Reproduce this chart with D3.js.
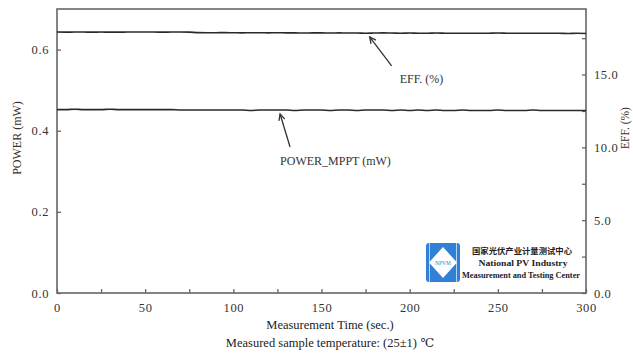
<!DOCTYPE html>
<html>
<head>
<meta charset="utf-8">
<script src="https://cdn.jsdelivr.net/npm/d3@7"></script>
<style>
  html, body { margin: 0; padding: 0; background: #fff; }
  svg { display: block; }
</style>
</head>
<body>
<svg id="chart" width="633" height="353"></svg>
<script>
// Measurement time (s), sampled every 5 s
const timeSec = d3.range(0, 301, 5);

// Conversion efficiency (%) – right axis
const effPct = [
  17.92,17.91,17.92,17.92,17.91,17.92,17.91,17.91,17.92,17.92,
  17.92,17.92,17.91,17.92,17.92,17.91,17.88,17.87,17.87,17.88,
  17.87,17.86,17.87,17.87,17.86,17.87,17.86,17.86,17.85,17.86,
  17.86,17.85,17.86,17.85,17.85,17.84,17.85,17.86,17.85,17.84,
  17.85,17.84,17.84,17.85,17.84,17.83,17.84,17.84,17.83,17.84,
  17.85,17.84,17.83,17.84,17.83,17.83,17.84,17.83,17.82,17.83,17.82
];

// MPPT output power (mW) – left axis
const powerMw = [
  0.452,0.452,0.453,0.452,0.452,0.452,0.453,0.452,0.452,0.452,
  0.452,0.452,0.452,0.452,0.451,0.451,0.451,0.451,0.451,0.451,
  0.451,0.451,0.450,0.451,0.451,0.451,0.451,0.450,0.451,0.451,
  0.451,0.450,0.451,0.451,0.450,0.451,0.451,0.451,0.450,0.451,
  0.450,0.451,0.450,0.451,0.450,0.450,0.451,0.450,0.450,0.450,
  0.451,0.450,0.450,0.450,0.451,0.450,0.450,0.450,0.450,0.450,0.450
];

// Tick values
const xMajorTicks = [0, 50, 100, 150, 200, 250, 300];
const xMinorTicks = [25, 75, 125, 175, 225, 275];
const leftTicks = [0.0, 0.2, 0.4, 0.6];
const rightMajorTicks = [0, 5, 10, 15];
const rightMinorTicks = [2.5, 7.5, 12.5, 17.5];

// Series call-outs: label and the point (time, value) the arrow points at
const callouts = [
  { label: "EFF. (%)", t: 177.3, axis: "right", value: 17.86, dx: 22, dy: 29, lx: 30, ly: 46 },
  { label: "POWER_MPPT (mW)", t: 126.5, axis: "left", value: 0.451, dx: 10, dy: 33, lx: 0, ly: 51 }
];

const SERIF = "'Liberation Serif', 'DejaVu Serif', serif";
const margin = { left: 57, right: 47, top: 9, bottom: 60 };
const W = 633, H = 353;
const svg = d3.select("#chart");
const iw = W - margin.left - margin.right;
const ih = H - margin.top - margin.bottom;

const x = d3.scaleLinear().domain([0, 300]).range([margin.left, margin.left + iw]);
const yL = d3.scaleLinear().domain([0, 0.7]).range([margin.top + ih, margin.top]);
const yR = d3.scaleLinear().domain([0, 19.5]).range([margin.top + ih, margin.top]);

const axisColor = "#666";

// Axes (ticks point inward)
svg.append("g").attr("transform", `translate(0,${margin.top + ih})`)
  .call(d3.axisBottom(x).tickValues(xMajorTicks).tickSizeInner(-4).tickSizeOuter(0)
    .tickPadding(10).tickFormat(d3.format("d")));
svg.append("g").attr("transform", `translate(0,${margin.top + ih})`)
  .call(d3.axisBottom(x).tickValues(xMinorTicks).tickSizeInner(-4).tickSizeOuter(0).tickFormat(""));

svg.append("g").attr("transform", `translate(${margin.left},0)`)
  .call(d3.axisLeft(yL).tickValues(leftTicks).tickSizeInner(-4).tickSizeOuter(0)
    .tickPadding(8).tickFormat(d3.format(".1f")));

svg.append("g").attr("transform", `translate(${margin.left + iw},0)`)
  .call(d3.axisRight(yR).tickValues(rightMajorTicks).tickSizeInner(-4).tickSizeOuter(0)
    .tickPadding(8).tickFormat(d3.format(".1f")));
svg.append("g").attr("transform", `translate(${margin.left + iw},0)`)
  .call(d3.axisRight(yR).tickValues(rightMinorTicks).tickSizeInner(-4).tickSizeOuter(0).tickFormat(""));

svg.selectAll(".domain").remove();
svg.selectAll("g").attr("font-family", null);
svg.selectAll(".tick line").attr("stroke", axisColor).attr("stroke-width", 1.3);
svg.selectAll(".tick text")
  .style("font-family", SERIF)
  .style("font-size", "12.5px")
  .style("letter-spacing", "0.6px")
  .attr("fill", "#333");

// Plot frame
svg.append("rect")
  .attr("x", margin.left).attr("y", margin.top)
  .attr("width", iw).attr("height", ih)
  .attr("fill", "none").attr("stroke", axisColor).attr("stroke-width", 1.6);

// Series lines
const lineEff = d3.line().x((d, i) => x(timeSec[i])).y(d => yR(d)).curve(d3.curveMonotoneX);
const linePow = d3.line().x((d, i) => x(timeSec[i])).y(d => yL(d)).curve(d3.curveMonotoneX);

svg.append("path").datum(effPct).attr("d", lineEff)
  .attr("fill", "none").attr("stroke", "#2a2a2a").attr("stroke-width", 1.6);
svg.append("path").datum(powerMw).attr("d", linePow)
  .attr("fill", "none").attr("stroke", "#2a2a2a").attr("stroke-width", 1.6);

// Call-out arrows and labels
callouts.forEach(c => {
  const hx = x(c.t);
  const hy = (c.axis === "right" ? yR(c.value) : yL(c.value)) + 4;
  const tx = hx + c.dx, ty = hy + c.dy;
  svg.append("line").attr("x1", tx).attr("y1", ty).attr("x2", hx).attr("y2", hy)
    .attr("stroke", "#333").attr("stroke-width", 1.3);
  const ang = Math.atan2(ty - hy, tx - hx);
  const len = 7, spread = 0.45;
  svg.append("path")
    .attr("d", `M${hx + len * Math.cos(ang - spread)},${hy + len * Math.sin(ang - spread)} L${hx},${hy} L${hx + len * Math.cos(ang + spread)},${hy + len * Math.sin(ang + spread)}`)
    .attr("fill", "none").attr("stroke", "#333").attr("stroke-width", 1.3);
  svg.append("text").attr("x", hx + c.lx).attr("y", hy + c.ly)
    .style("font-family", SERIF).style("font-size", "12px").attr("fill", "#333").text(c.label);
});

// Axis titles
svg.append("text")
  .attr("transform", `translate(21,138) rotate(-90)`)
  .attr("text-anchor", "middle").style("font-family", SERIF).style("font-size", "12px")
  .attr("fill", "#333").text("POWER (mW)");
svg.append("text")
  .attr("transform", `translate(629,128) rotate(-90)`)
  .attr("text-anchor", "middle").style("font-family", SERIF).style("font-size", "11.5px")
  .attr("fill", "#333").text("EFF. (%)");

svg.append("text").attr("x", 330).attr("y", 329)
  .attr("text-anchor", "middle").style("font-family", SERIF).style("font-size", "12.5px")
  .attr("fill", "#222").text("Measurement Time (sec.)");
svg.append("text").attr("x", 330).attr("y", 347)
  .attr("text-anchor", "middle").style("font-family", SERIF).style("font-size", "12.5px")
  .attr("fill", "#222").text("Measured sample temperature: (25±1) ℃");

// Laboratory badge
const badge = svg.append("g");
badge.append("rect").attr("x", 426).attr("y", 243).attr("width", 34).attr("height", 39)
  .attr("rx", 3).attr("fill", "#2f80d6");
badge.append("line").attr("x1", 429.5).attr("x2", 429.5).attr("y1", 243).attr("y2", 282)
  .attr("stroke", "#dbe9f8").attr("stroke-width", 0.8);
badge.append("line").attr("x1", 456.5).attr("x2", 456.5).attr("y1", 243).attr("y2", 282)
  .attr("stroke", "#dbe9f8").attr("stroke-width", 0.8);
badge.append("path").attr("d", "M443,247 L457,262.5 L443,278 L429,262.5 Z").attr("fill", "#fff");
badge.append("text").attr("x", 443).attr("y", 264.5).attr("text-anchor", "middle")
  .style("font-family", SERIF).style("font-size", "5.5px").attr("fill", "#2f80d6").text("NPVM");

badge.append("text").attr("x", 522).attr("y", 254).attr("text-anchor", "middle")
  .attr("textLength", 100).attr("lengthAdjust", "spacingAndGlyphs")
  .style("font-family", "'Noto Sans CJK SC', sans-serif").style("font-size", "8px")
  .style("font-weight", "bold").attr("fill", "#222").text("国家光伏产业计量测试中心");
badge.append("text").attr("x", 523).attr("y", 266).attr("text-anchor", "middle")
  .attr("textLength", 89).attr("lengthAdjust", "spacingAndGlyphs")
  .style("font-family", SERIF).style("font-size", "9px").style("font-weight", "bold")
  .attr("fill", "#222").text("National PV Industry");
badge.append("text").attr("x", 521).attr("y", 277.5).attr("text-anchor", "middle")
  .attr("textLength", 118).attr("lengthAdjust", "spacingAndGlyphs")
  .style("font-family", SERIF).style("font-size", "9px").style("font-weight", "bold")
  .attr("fill", "#222").text("Measurement and Testing Center");
</script>
</body>
</html>
